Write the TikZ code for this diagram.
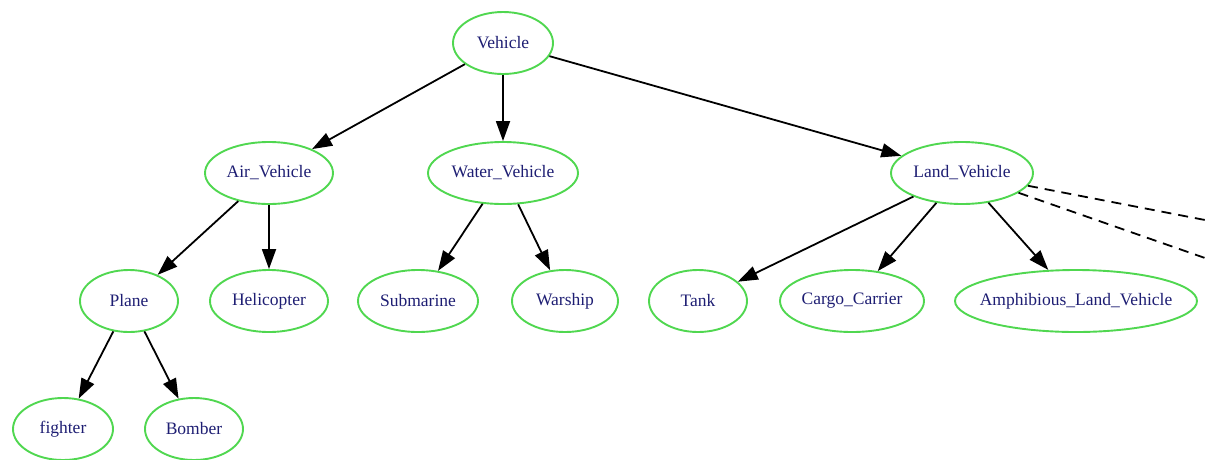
\documentclass[tikz,border=0pt]{standalone}
\usepackage{fontspec}
\setmainfont{Liberation Serif}
\usepackage{tikz}
\usetikzlibrary{positioning, arrows.meta, shapes.geometric}
\definecolor{nodegreen}{RGB}{80,215,80}
\definecolor{nodetext}{RGB}{30,30,115}

\begin{document}
\begin{tikzpicture}[x=1pt, y=-1pt, on grid, >={Triangle[length=20pt, width=14pt]},
        cls/.style={ellipse, draw=nodegreen, line width=1.9pt, text=nodetext,
            font=\fontsize{17.5}{20}\selectfont, minimum height=62pt, inner xsep=-12pt, inner ysep=0pt}]
        \useasboundingbox (0,0) rectangle (1205,459);

        \node[cls, minimum width=100pt]    (1) at (503,43)                          {Vehicle};
        \node[cls, minimum width=128pt]    (2)[below left=130pt and 234pt of 1]    {Air\_Vehicle};
        \node[cls, minimum width=150pt]    (3)[below=130pt of 1]                   {Water\_Vehicle};
        \node[cls, minimum width=142pt]    (4)[below right=130pt and 459pt of 1]   {Land\_Vehicle};
        \node[cls, minimum width=98pt]     (5)[below left=128pt and 140pt of 2]    {Plane};
        \node[cls, minimum width=118pt]    (6)[below=128pt of 2]                   {Helicopter};
        \node[cls, minimum width=120pt]    (7)[below left=128pt and 85pt of 3]     {Submarine};
        \node[cls, minimum width=106pt]    (8)[below right=128pt and 62pt of 3]    {Warship};
        \node[cls, minimum width=98pt]     (9)[below left=128pt and 264pt of 4]    {Tank};
        \node[cls, minimum width=144pt]    (10)[below left=128pt and 110pt of 4]   {Cargo\_Carrier};
        \node[cls, minimum width=242pt]    (11)[below right=128pt and 114pt of 4]  {Amphibious\_Land\_Vehicle};
        \node[cls, minimum width=100pt]    (12)[below left=128pt and 66pt of 5]    {fighter};
        \node[cls, minimum width=98pt]     (13)[below right=128pt and 65pt of 5]   {Bomber};
        \coordinate (14) at (1205,220);
        \coordinate (15) at (1205,258);

        \path[->, line width=1.8pt]
        (1) edge (2)
        (1) edge (3)
        (1) edge (4)
        (2) edge (5)
        (2) edge (6)
        (3) edge (7)
        (3) edge (8)
        (4) edge (9)
        (4) edge (10)
        (4) edge (11)
        (5) edge (12)
        (5) edge (13)
        ;
        \path[line width=1.8pt, dash pattern=on 10pt off 7pt]
        (4) edge (14)
        (4) edge (15)
        ;
    \end{tikzpicture}
\end{document}
